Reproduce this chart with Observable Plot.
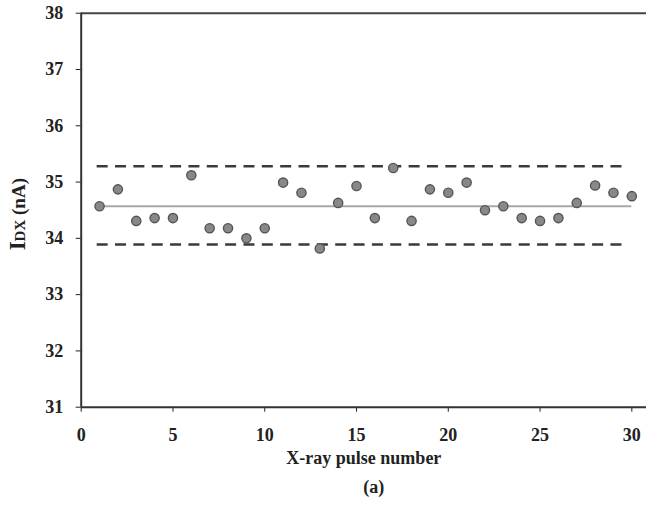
<!DOCTYPE html>
<html>
<head>
<meta charset="utf-8">
<script src="https://cdn.jsdelivr.net/npm/d3@7"></script>
<script src="https://cdn.jsdelivr.net/npm/@observablehq/plot@0.6"></script>
<style>
  html, body { margin: 0; padding: 0; background: #fff; }
</style>
</head>
<body>
<div id="chart"></div>
<script>
const pulses = [1,2,3,4,5,6,7,8,9,10,11,12,13,14,15,16,17,18,19,20,21,22,23,24,25,26,27,28,29,30];
const idx = [34.57,34.87,34.31,34.36,34.36,35.12,34.18,34.18,34.00,34.18,34.99,34.81,33.82,34.63,34.93,34.36,35.25,34.31,34.87,34.81,34.99,34.50,34.57,34.36,34.31,34.36,34.63,34.94,34.81,34.75];
const meanValue = 34.57;
const limits = [35.28, 33.89];
const xTicks = [0,5,10,15,20,25,30];
const yTicks = [31,32,33,34,35,36,37,38];
const xTitle = "X-ray pulse number";
const yTitle = "IDX (nA)";
const caption = "(a)";

const data = pulses.map((p, i) => ({pulse: p, value: idx[i]}));
const font = "'Liberation Serif', 'Times New Roman', serif";

const chart = Plot.plot({
  width: 646,
  height: 509,
  marginLeft: 80.7,
  marginRight: 0,
  marginTop: 12.7,
  marginBottom: 102.3,
  style: {fontFamily: font, fontSize: "18px", fontWeight: "bold", color: "#222", background: "#fff"},
  x: {domain: [0, 30.8], ticks: xTicks, tickFormat: "d", label: null, tickSize: 5, tickPadding: 16},
  y: {domain: [31, 38], ticks: yTicks, tickFormat: "d", label: null, tickSize: 5, tickPadding: 13},
  marks: [
    Plot.ruleY([meanValue], {x1: 1, x2: 30, stroke: "#a8a8a8", strokeWidth: 2}),
    Plot.ruleY(limits, {x1: 0.87, x2: 29.5, stroke: "#3a3a3a", strokeWidth: 2.6, strokeDasharray: "11,7.35"}),
    Plot.dot(data, {x: "pulse", y: "value", r: 4.6, fill: "#888", stroke: "#555", strokeWidth: 1.4}),
    Plot.ruleY([38], {stroke: "#444", strokeWidth: 2}),
    Plot.ruleY([31], {stroke: "#333", strokeWidth: 2}),
    Plot.ruleX([0], {stroke: "#333", strokeWidth: 2}),
    Plot.text([xTitle], {frameAnchor: "bottom", dy: 57, fontSize: 18, fontWeight: "bold", fill: "#222"}),
    Plot.text([caption], {frameAnchor: "bottom", dx: 10, dy: 86, fontSize: 18, fontWeight: "bold", fill: "#222"}),
    Plot.text([yTitle], {frameAnchor: "left", textAnchor: "middle", rotate: -90, dx: -62, dy: 4, fontSize: 18, fontWeight: "bold", fill: "#222"})
  ]
});

d3.select(chart).selectAll("text").each(function() {
  if (this.textContent === yTitle) {
    const t = d3.select(this);
    t.text(null);
    t.append("tspan").attr("font-size", 23).text("I");
    t.append("tspan").attr("font-size", 15).text("DX");
    t.append("tspan").attr("font-size", 19).text(" (nA)");
  }
});

document.getElementById("chart").appendChild(chart);
</script>
</body>
</html>
